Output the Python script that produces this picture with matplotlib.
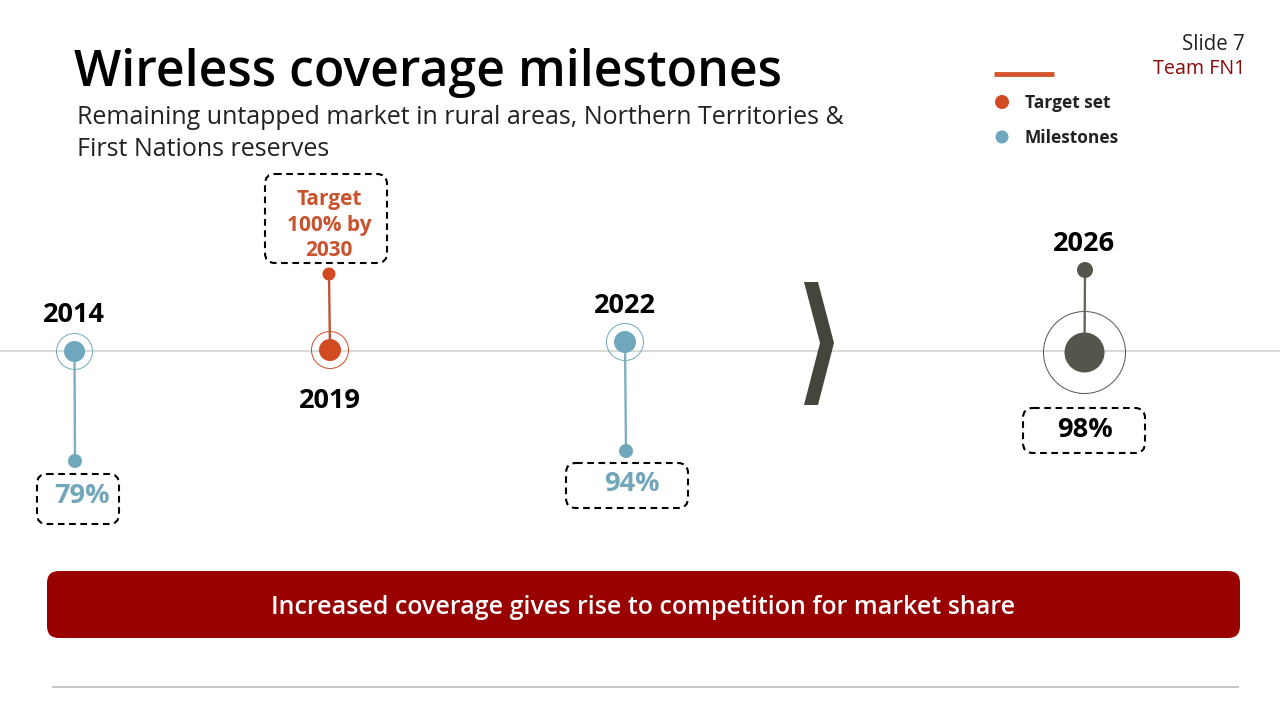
import matplotlib
matplotlib.use('Agg')
import matplotlib.pyplot as plt
from matplotlib.patches import Circle, FancyBboxPatch, Polygon

plt.rcParams['font.family'] = ['Open Sans', 'DejaVu Sans']

# chart values
years = ['2014', '2019', '2022', '2026']
callouts = ['79%', 'Target\n100% by\n2030', '94%', '98%']
legend_labels = ['Target set', 'Milestones']

BLUE = '#6fa8bd'
ORANGE = '#d24a22'
DARK = '#55554c'
RED = '#990000'
colours = [BLUE, ORANGE, BLUE, DARK]
stem_colours = ['#7fafc0', '#bf5335', '#7fafc0', '#66665e']
text_colours = ['#72a6b9', '#c8532f', '#72a6b9', 'black']

# layout in pixels of the slide
hub_x = [74.5, 330, 625, 1084.5]
hub_y = [351.5, 350, 342, 352.5]
hub_r = [10.5, 11, 11, 20]
ring_r = [18, 18.5, 18.5, 41]
end_x = [75, 329, 626, 1085]
end_y = [461, 274, 451, 270]
end_r = [7, 6.5, 7, 8]
year_x = [74, 330, 625, 1084]
year_y = [315, 401, 306, 244]
box_x = [37, 265, 566, 1023]
box_y = [474, 174, 463, 408]
box_w = [82, 122, 122, 122]
box_h = [50, 89, 45, 45]
call_x = [82, 329, 632, 1085]
call_y = [496, 225, 484, 430]
call_size = [19.5, 15, 19.5, 19.5]

fig = plt.figure(figsize=(12.8, 7.2), dpi=100)
ax = fig.add_axes([0, 0, 1, 1])
ax.set_xlim(0, 1280)
ax.set_ylim(720, 0)
ax.axis('off')

# timeline
ax.plot([0, 1280], [351, 351], color='#dbdbd6', lw=1.5, zorder=1)
ax.add_patch(Polygon([(804, 282), (818, 282), (834, 343), (818, 405), (804, 405), (820, 343)],
                     closed=True, color='#45453c', lw=0, zorder=2))

for i in range(len(years)):
    ax.add_patch(Circle((hub_x[i], hub_y[i]), ring_r[i], fc='none', ec=colours[i], lw=0.7, zorder=2))
    ax.add_patch(Circle((hub_x[i], hub_y[i]), hub_r[i], fc=colours[i], ec='none', zorder=3))
    ax.plot([hub_x[i], end_x[i]], [hub_y[i], end_y[i]], color=stem_colours[i], lw=1.7, zorder=2)
    ax.add_patch(Circle((end_x[i], end_y[i]), end_r[i], fc=colours[i], ec='none', zorder=3))
    ax.text(year_x[i], year_y[i], years[i], fontsize=19.5, fontweight='bold', color='black',
            ha='center', va='center')
    ax.add_patch(FancyBboxPatch((box_x[i] + 10, box_y[i] + 10), box_w[i] - 20, box_h[i] - 20,
                                boxstyle='round,pad=10,rounding_size=10', fc='none', ec='black',
                                lw=1.5, ls=(0, (3.2, 2.2))))
    ax.text(call_x[i], call_y[i], callouts[i], fontsize=call_size[i], fontweight='bold',
            color=text_colours[i], ha='center', va='center', linespacing=1.27)

# header
ax.text(74, 73, 'Wireless coverage milestones', fontsize=36, fontweight='semibold', color='black',
        ha='left', va='center')
ax.text(77, 118, 'Remaining untapped market in rural areas, Northern Territories &', fontsize=18,
        color='#222222', ha='left', va='center')
ax.text(77, 150, 'First Nations reserves', fontsize=18, color='#222222', ha='left', va='center')
ax.text(1245, 44, 'Slide 7', fontsize=14.8, color='#222222', ha='right', va='center')
ax.text(1245, 69, 'Team FN1', fontsize=14.2, color='#8b0a0a', ha='right', va='center')

# legend
ax.plot([994, 1054], [74, 74], color='#d2562e', lw=3.5, solid_capstyle='butt')
ax.add_patch(Circle((1002, 102), 7, fc=ORANGE, ec='none'))
ax.add_patch(Circle((1002, 137), 6.5, fc=BLUE, ec='none'))
ax.text(1025, 103, legend_labels[0], fontsize=12.5, fontweight='bold', color='#222222', va='center')
ax.text(1025, 138, legend_labels[1], fontsize=12.5, fontweight='bold', color='#222222', va='center')

# banner
ax.add_patch(FancyBboxPatch((59, 583), 1169, 43, boxstyle='round,pad=12,rounding_size=12',
                            fc=RED, ec='none'))
ax.text(643, 607, 'Increased coverage gives rise to competition for market share', fontsize=18,
        fontweight='semibold', color='white', ha='center', va='center')

ax.plot([53, 1238], [687, 687], color='#c8c8c8', lw=1.5)

fig.savefig('out.png', dpi=100)
